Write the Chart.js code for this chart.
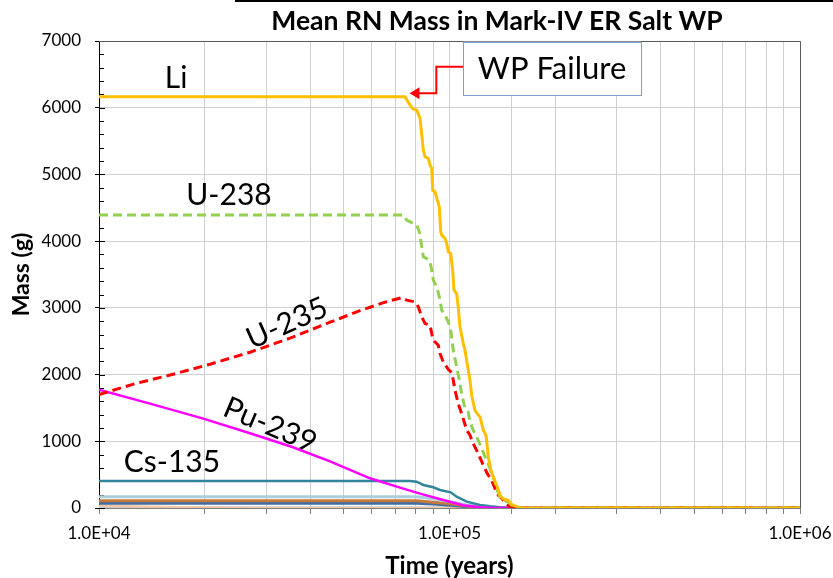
<!DOCTYPE html>
<html>
<head>
<meta charset="utf-8">
<script src="https://cdn.jsdelivr.net/npm/chart.js@4.4.1/dist/chart.umd.min.js"></script>
<style>
  html, body { margin: 0; padding: 0; background: #ffffff; }
  #wrap { width: 833px; height: 578px; }
</style>
</head>
<body>
<div id="wrap"><canvas id="rnChart" width="833" height="578"></canvas></div>
<script>
// time (years) / mass (g)
var li_time = [1e4, 74640, 77170, 78700, 80620, 82390, 84200, 85150, 87010, 87990, 88970, 89560, 90920, 92310, 93520, 94390, 95010, 97100, 98180, 99220, 100800, 102100, 103000, 104800, 105900, 107100, 109500, 110700, 114400, 115700, 118200, 120000, 122200, 124900, 127100, 128200, 129000, 131300, 133400, 134900, 136900, 139400, 141900, 147200, 149500, 152100, 155500, 158000, 1e6];
var li_mass = [6165, 6165, 6040, 5980, 5965, 5845, 5365, 5265, 5240, 5140, 5090, 4765, 4740, 4615, 4515, 4140, 4090, 4040, 3965, 3840, 3815, 3565, 3265, 3215, 3015, 2715, 2465, 2365, 1915, 1690, 1465, 1415, 1365, 1165, 1090, 915, 765, 565, 465, 390, 315, 190, 140, 115, 65, 40, 25, 0, 0];

var u238_time = [1e4, 73820, 75490, 78830, 80620, 82010, 83330, 84200, 86090, 87990, 88970, 89900, 91950, 93520, 95010, 97100, 99220, 100800, 102500, 106700, 108300, 110700, 113100, 114400, 116900, 119600, 123600, 126300, 129000, 131900, 134900, 136900, 139400, 142400, 147200, 150500, 153800, 158000, 1e6];
var u238_mass = [4390, 4390, 4315, 4265, 4240, 4140, 3915, 3765, 3740, 3690, 3565, 3415, 3315, 3165, 2965, 2890, 2790, 2665, 2365, 1915, 1715, 1490, 1440, 1290, 1165, 1065, 890, 765, 665, 515, 390, 265, 165, 115, 90, 40, 25, 0, 0];

var u235_time = [1e4, 12670, 16150, 20730, 26970, 35060, 45620, 55540, 65460, 73030, 75490, 79720, 81500, 83330, 85150, 87990, 88970, 89900, 92910, 93950, 96010, 99220, 101500, 102500, 103700, 105900, 108300, 112000, 114400, 116900, 120800, 124900, 128200, 131900, 134900, 137800, 140000, 142400, 145600, 148800, 152000, 1e6];
var u235_mass = [1700, 1863, 2000, 2155, 2335, 2545, 2785, 2958, 3085, 3153, 3115, 3090, 3015, 2865, 2765, 2740, 2615, 2515, 2440, 2315, 2190, 2075, 2030, 1915, 1765, 1565, 1415, 1165, 1090, 965, 815, 640, 515, 415, 290, 190, 165, 115, 65, 10, 0, 0];

var pu239_time = [1e4, 13980, 19840, 26970, 35770, 45620, 59320, 72230, 82390, 100800, 109300, 122200, 134900, 1e6];
var pu239_mass = [1775, 1565, 1340, 1120, 910, 700, 445, 305, 215, 90, 40, 10, 0, 0];

var cs135_time = [1e4, 77170, 80620, 84200, 89900, 93950, 100800, 104800, 112000, 122200, 130600, 139400, 148800, 1e6];
var cs135_mass = [405, 405, 395, 345, 310, 270, 235, 170, 95, 45, 25, 10, 0, 0];

var rnA_time = [1e4, 80620, 89900, 100800, 112000, 124900, 140000, 1e6];
var rnA_mass = [170, 170, 140, 95, 45, 15, 0, 0];
var rnB_time = [1e4, 80620, 87990, 100800, 112000, 124900, 140000, 1e6];
var rnB_mass = [110, 110, 90, 65, 30, 8, 0, 0];
var rnC_time = [1e4, 80620, 89900, 100800, 112000, 130000, 1e6];
var rnC_mass = [72, 72, 60, 40, 20, 0, 0];
var rnD_time = [1e4, 14000, 20000, 30000, 1e6];
var rnD_mass = [35, 20, 8, 0, 0];
var rnE_time = [1e4, 1e6];
var rnE_mass = [5, 5];

var x_min = 1e4, x_max = 1e6;
var y_min = 0, y_max = 7000, y_step = 1000, y_minor = 200;

var FONT = "Lato, 'Open Sans', sans-serif";

function pts(t, m) {
    return t.map(function (v, i) { return { x: v, y: m[i] }; });
}

function expLabel(v) {
    var e = Math.round(Math.log10(v));
    var s = e < 10 ? '0' + e : '' + e;
    return (v / Math.pow(10, e)).toFixed(1) + 'E+' + s;
}

function line(label, t, m, color, width, dash) {
    return {
        label: label,
        data: pts(t, m),
        borderColor: color,
        backgroundColor: color,
        borderWidth: width,
        borderDash: dash || [],
        pointRadius: 0,
        tension: 0,
        fill: false
    };
}

// labels / WP failure callout, placed in data coordinates
var seriesLabels = [
    { text: 'Li', t: 16590, m: 6445, rot: 0 },
    { text: 'U-238', t: 23490, m: 4690, rot: 0 },
    { text: 'U-235', t: 34390, m: 2770, rot: -24 },
    { text: 'Pu-239', t: 30750, m: 1240, rot: 23 },
    { text: 'Cs-135', t: 16150, m: 685, rot: 0 }
];
var wpBox = { t0: 109300, t1: 352000, m0: 6990, m1: 6190 };
var wpArrow = { tBox: 109300, tElbow: 91700, tTip: 76900, mHigh: 6615, mLow: 6215 };

var decorPlugin = {
    id: 'decor',
    beforeDatasetsDraw: function (chart) {
        var ctx = chart.ctx, ys = chart.scales.y, a = chart.chartArea;
        ctx.save();
        // inside tick marks on the y axis
        ctx.strokeStyle = '#000';
        ctx.lineWidth = 1;
        for (var v = y_min; v <= y_max; v += y_minor) {
            var py = Math.round(ys.getPixelForValue(v)) + 0.5;
            var len = (v % y_step === 0) ? 6 : 5;
            ctx.beginPath();
            ctx.moveTo(a.left, py);
            ctx.lineTo(a.left + len, py);
            ctx.stroke();
        }
        ctx.restore();
    },
    afterDraw: function (chart) {
        var ctx = chart.ctx, xs = chart.scales.x, ys = chart.scales.y, a = chart.chartArea;
        ctx.save();
        // frame: top + right
        ctx.strokeStyle = '#595959';
        ctx.lineWidth = 1;
        ctx.beginPath();
        ctx.moveTo(a.left, a.top + 0.5);
        ctx.lineTo(a.right + 0.5, a.top + 0.5);
        ctx.lineTo(a.right + 0.5, a.bottom);
        ctx.stroke();

        // title + line above it
        ctx.strokeStyle = '#000';
        ctx.lineWidth = 2;
        ctx.beginPath();
        ctx.moveTo(235, 1);
        ctx.lineTo(833, 1);
        ctx.stroke();
        ctx.fillStyle = '#000';
        ctx.font = 'bold 26.5px ' + FONT;
        ctx.textAlign = 'center';
        ctx.textBaseline = 'middle';
        ctx.fillText('Mean RN Mass in Mark-IV ER Salt WP', 497, 21);

        // series labels
        ctx.font = '30px ' + FONT;
        seriesLabels.forEach(function (l) {
            ctx.save();
            ctx.translate(xs.getPixelForValue(l.t), ys.getPixelForValue(l.m));
            ctx.rotate(l.rot * Math.PI / 180);
            ctx.fillText(l.text, 0, 0);
            ctx.restore();
        });

        // WP Failure callout
        var bx0 = xs.getPixelForValue(wpBox.t0), bx1 = xs.getPixelForValue(wpBox.t1);
        var by0 = ys.getPixelForValue(wpBox.m0), by1 = ys.getPixelForValue(wpBox.m1);
        ctx.fillStyle = '#fff';
        ctx.fillRect(bx0, by0, bx1 - bx0, by1 - by0);
        ctx.strokeStyle = '#7F9FCF';
        ctx.lineWidth = 1;
        ctx.strokeRect(Math.round(bx0) + 0.5, Math.round(by0) + 0.5, Math.round(bx1 - bx0), Math.round(by1 - by0));
        ctx.fillStyle = '#000';
        ctx.font = '31px ' + FONT;
        ctx.fillText('WP Failure', (bx0 + bx1) / 2, (by0 + by1) / 2 + 1);

        var ax0 = xs.getPixelForValue(wpArrow.tBox), ax1 = xs.getPixelForValue(wpArrow.tElbow);
        var ax2 = xs.getPixelForValue(wpArrow.tTip);
        var ay0 = ys.getPixelForValue(wpArrow.mHigh), ay1 = ys.getPixelForValue(wpArrow.mLow);
        ctx.strokeStyle = '#FF0000';
        ctx.lineWidth = 2;
        ctx.beginPath();
        ctx.moveTo(ax0, ay0);
        ctx.lineTo(ax1, ay0);
        ctx.lineTo(ax1, ay1);
        ctx.lineTo(ax2 + 8, ay1);
        ctx.stroke();
        ctx.fillStyle = '#FF0000';
        ctx.beginPath();
        ctx.moveTo(ax2, ay1);
        ctx.lineTo(ax2 + 10, ay1 - 6);
        ctx.lineTo(ax2 + 10, ay1 + 6);
        ctx.closePath();
        ctx.fill();
        ctx.restore();
    }
};

var ctxEl = document.getElementById('rnChart');
var rnChart = new Chart(ctxEl, {
    type: 'line',
    data: {
        datasets: [
            line('Li', li_time, li_mass, '#FFC000', 3),
            line('U-238', u238_time, u238_mass, '#92D050', 3, [9, 5]),
            line('U-235', u235_time, u235_mass, '#FF0000', 3, [9, 5]),
            line('Pu-239', pu239_time, pu239_mass, '#FF00FF', 2.5),
            line('Cs-135', cs135_time, cs135_mass, '#31859C', 2.5),
            line('rnA', rnA_time, rnA_mass, '#A9CEDC', 3),
            line('rnB', rnB_time, rnB_mass, '#C5793A', 3),
            line('rnC', rnC_time, rnC_mass, '#3D6DA3', 3),
            line('rnD', rnD_time, rnD_mass, '#F4C6A2', 2.5),
            line('rnE', rnE_time, rnE_mass, '#BCCDE0', 3)
        ]
    },
    options: {
        responsive: false,
        animation: false,
        devicePixelRatio: 1,
        layout: { padding: { top: 41, right: 33, left: 0, bottom: 0 } },
        plugins: {
            legend: { display: false },
            tooltip: { enabled: false },
            title: { display: false }
        },
        scales: {
            x: {
                type: 'logarithmic',
                min: x_min,
                max: x_max,
                afterFit: function (s) {
                    s.height = 70;
                    s.paddingLeft = 0;
                    s.paddingRight = 0;
                },
                border: { color: '#808080', width: 1 },
                grid: {
                    color: '#D0D0D0',
                    lineWidth: 1,
                    tickLength: 6,
                    tickColor: '#808080'
                },
                ticks: {
                    autoSkip: false,
                    maxRotation: 0,
                    padding: 9,
                    color: '#000',
                    font: { family: FONT, size: 17 },
                    callback: function (v) {
                        var e = Math.log10(v);
                        return Math.abs(e - Math.round(e)) < 1e-9 ? expLabel(v) : '';
                    }
                },
                title: {
                    display: true,
                    text: 'Time (years)',
                    color: '#000',
                    font: { family: FONT, size: 24, weight: 'bold', lineHeight: 1 },
                    padding: { top: 0, bottom: 0 }
                }
            },
            y: {
                min: y_min,
                max: y_max,
                afterFit: function (s) { s.width = 99; },
                border: { color: '#000', width: 1 },
                grid: {
                    color: '#D0D0D0',
                    lineWidth: 1,
                    tickLength: 4,
                    tickColor: '#000'
                },
                ticks: {
                    stepSize: y_step,
                    padding: 14,
                    color: '#000',
                    font: { family: FONT, size: 17 },
                    callback: function (v) { return String(v); }
                },
                title: {
                    display: true,
                    text: 'Mass (g)',
                    color: '#000',
                    font: { family: FONT, size: 23, weight: 'bold', lineHeight: 1 },
                    padding: { top: 10, bottom: 0 }
                }
            }
        }
    },
    plugins: [decorPlugin]
});
</script>
</body>
</html>
